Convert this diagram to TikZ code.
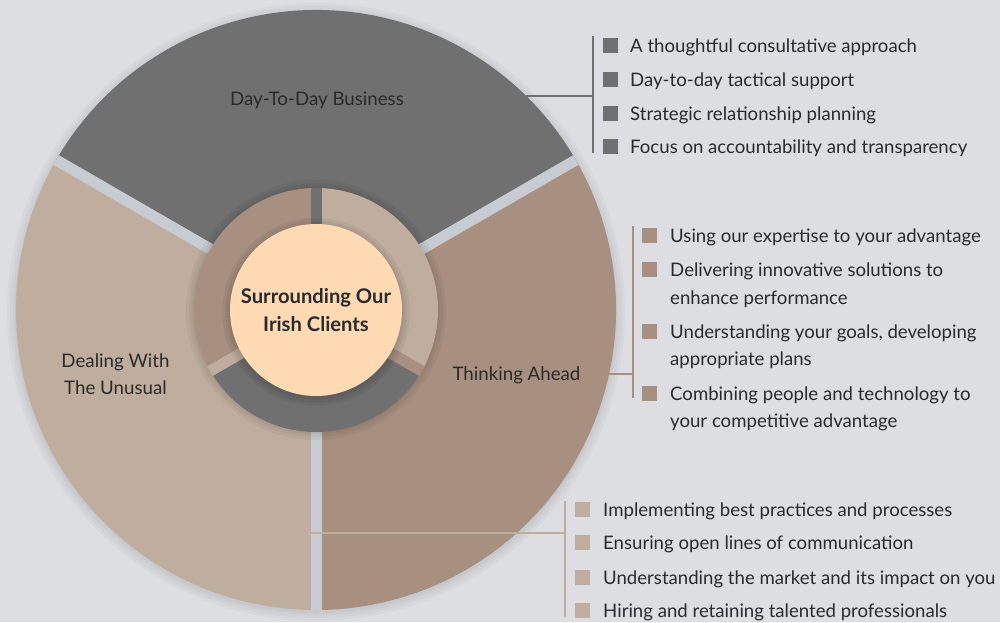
\documentclass[tikz,border=0pt]{standalone}
\usepackage{fontspec}
\setmainfont{Lato}
\definecolor{bgc}{HTML}{DCDEE2}
\definecolor{greyseg}{HTML}{707070}
\definecolor{lighttan}{HTML}{BFAE9E}
\definecolor{darktan}{HTML}{A89080}
\definecolor{gapc}{HTML}{C7CCD2}
\definecolor{peach}{HTML}{FFDAB3}
\definecolor{txt}{HTML}{2A2A2A}
\tikzset{
  listtext/.style={anchor=base west, inner sep=0pt, font=\fontsize{18.6}{22}\selectfont, text=txt},
  seglabel/.style={anchor=base, inner sep=0pt, font=\fontsize{18.7}{22}\selectfont, text=txt},
  hubtext/.style={anchor=base, inner sep=0pt, font=\bfseries\fontsize{20.2}{24}\selectfont, text=txt},
  bulletbox/.style={minimum size=15pt, inner sep=0pt, fill=#1},
  bracket/.style={draw=#1, line width=2.8pt},
}
\begin{document}
\begin{tikzpicture}[x=1pt,y=-1pt]
\useasboundingbox (0,0) rectangle (1000,622);
\fill[bgc] (0,0) rectangle (1000,622);

\begin{scope}[shift={(316,310)}]
  % soft shadow of the outer disc
  \foreach \r in {309,306,303,301}
    \fill[black, opacity=0.025] (0,2) circle[radius=\r];
  % outer sectors
  \fill[greyseg] (0,0) -- (210:300) arc[start angle=210, end angle=330, radius=300] -- cycle;
  \fill[lighttan] (0,0) -- (90:300) arc[start angle=90, end angle=210, radius=300] -- cycle;
  \fill[darktan] (0,0) -- (-30:300) arc[start angle=-30, end angle=90, radius=300] -- cycle;
  % gaps between outer sectors
  \begin{scope}
    \clip (0,0) circle[radius=300];
    \foreach \a in {90,210,330}
      \draw[gapc, line width=11pt] (\a:110) -- (\a:310);
  \end{scope}
  % shadow of the ring
  \foreach \r in {130,127,124}
    \fill[black, opacity=0.04] (0,0) circle[radius=\r];
  % ring segments
  \fill[lighttan] (0,0) -- (-90:122) arc[start angle=-90, end angle=30, radius=122] -- cycle;
  \fill[darktan] (0,0) -- (150:122) arc[start angle=150, end angle=270, radius=122] -- cycle;
  \fill[greyseg] (0,0) -- (30:122) arc[start angle=30, end angle=150, radius=122] -- cycle;
  % gaps in the ring
  \draw[greyseg, line width=11pt] (270:80) -- (270:122.5);
  \draw[lighttan, line width=11pt] (150:80) -- (150:122.5);
  \draw[darktan, line width=11pt] (30:80) -- (30:122.5);
  % shadow of the centre disc
  \foreach \r in {94,91,88}
    \fill[black, opacity=0.05] (0,2) circle[radius=\r];
\end{scope}

% centre
\node[circle, fill=peach, minimum size=172pt, inner sep=0pt] (hub) at (316,310) {};
\node[hubtext] (hubA) at (316,303) {Surrounding Our};
\node[hubtext] (hubB) at (316,331) {Irish Clients};

% segment labels
\node[seglabel] (day) at (317,105) {Day-To-Day Business};
\node[seglabel] (think) at (516.5,380) {Thinking Ahead};
\node[seglabel] (dealA) at (115.5,367) {Dealing With};
\node[seglabel] (dealB) at (115.5,394) {The Unusual};

% connectors
\coordinate (topS) at (526,96);
\coordinate (topE) at (593,96);
\coordinate (topU) at (593,36);
\coordinate (topD) at (593,153);
\draw[bracket=greyseg] (topS) -- (topE);
\draw[bracket=greyseg] (topU) -- (topD);

\coordinate (rgtS) at (609,374);
\coordinate (rgtE) at (633,374);
\coordinate (rgtU) at (633,226);
\coordinate (rgtD) at (633,398);
\draw[bracket=darktan] (rgtS) -- (rgtE);
\draw[bracket=darktan] (rgtU) -- (rgtD);

\coordinate (botS) at (311,533);
\coordinate (botE) at (565,533);
\coordinate (botU) at (565,501);
\coordinate (botD) at (565,617);
\draw[bracket=lighttan] (botS) -- (botE);
\draw[bracket=lighttan] (botU) -- (botD);

% top list
\node[bulletbox=greyseg] (tb1) at (610,45) {};
\node[bulletbox=greyseg] (tb2) at (610,79) {};
\node[bulletbox=greyseg] (tb3) at (610,113) {};
\node[bulletbox=greyseg] (tb4) at (610,146) {};
\node[listtext] (tt1) at (630,52) {A thoughtful consultative approach};
\node[listtext] (tt2) at (630,86) {Day-to-day tactical support};
\node[listtext] (tt3) at (630,120) {Strategic relationship planning};
\node[listtext] (tt4) at (630,153) {Focus on accountability and transparency};

% right list
\node[bulletbox=darktan] (rb1) at (649.5,235) {};
\node[bulletbox=darktan] (rb2) at (649.5,269) {};
\node[bulletbox=darktan] (rb3) at (649.5,331) {};
\node[bulletbox=darktan] (rb4) at (649.5,393) {};
\node[listtext] (rt1) at (670,242) {Using our expertise to your advantage};
\node[listtext] (rt2) at (670,276) {Delivering innovative solutions to};
\node[listtext] (rt2b) at (670,304) {enhance performance};
\node[listtext] (rt3) at (670,338) {Understanding your goals, developing};
\node[listtext] (rt3b) at (670,365) {appropriate plans};
\node[listtext] (rt4) at (670,400) {Combining people and technology to};
\node[listtext] (rt4b) at (670,427) {your competitive advantage};

% bottom list
\node[bulletbox=lighttan] (bb1) at (582.5,509) {};
\node[bulletbox=lighttan] (bb2) at (582.5,542) {};
\node[bulletbox=lighttan] (bb3) at (582.5,577) {};
\node[bulletbox=lighttan] (bb4) at (582.5,610) {};
\node[listtext] (bt1) at (603,516) {Implementing best practices and processes};
\node[listtext] (bt2) at (603,549) {Ensuring open lines of communication};
\node[listtext] (bt3) at (603,584) {Understanding the market and its impact on you};
\node[listtext] (bt4) at (603,617) {Hiring and retaining talented professionals};
\end{tikzpicture}
\end{document}
